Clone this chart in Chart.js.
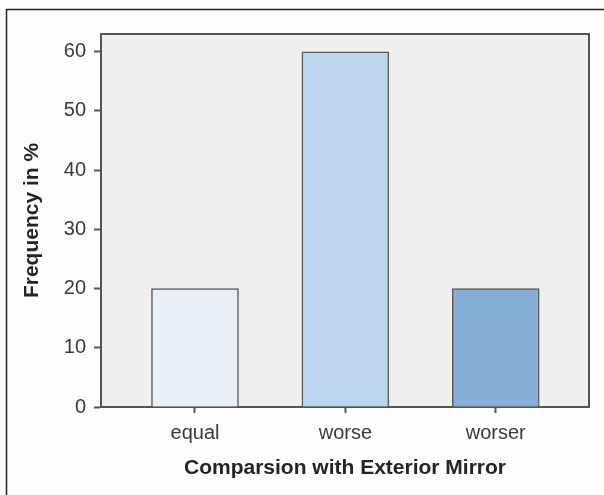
<!DOCTYPE html>
<html>
<head>
<meta charset="utf-8">
<script src="https://cdn.jsdelivr.net/npm/chart.js@4/dist/chart.umd.min.js"></script>
<style>
  html, body { margin: 0; padding: 0; background: #fdfdfd; }
  #wrap { width: 604px; height: 495px; position: relative; }
</style>
</head>
<body>
<div id="wrap"><canvas id="freq-chart"></canvas></div>
<script>
// chart data
const categories = ['equal', 'worse', 'worser'];
const frequencies = [20, 60, 20];
const barColors = ['#e9eff8', '#bbd6ec', '#85afd6'];
const yTicks = [0, 10, 20, 30, 40, 50, 60];

const frameColor = '#5a5353';
const fontFamily = '"Liberation Sans", Arial, Helvetica, sans-serif';

// grey plot background plus top/right frame and the outer picture border
const plotFrame = {
    id: 'plotFrame',
    beforeDraw: (chart) => {
        const { ctx, chartArea: a } = chart;
        ctx.save();
        ctx.fillStyle = '#efefef';
        ctx.fillRect(a.left, a.top, a.right - a.left, a.bottom - a.top);
        ctx.restore();
    },
    afterDraw: (chart) => {
        const { ctx, chartArea: a } = chart;
        ctx.save();
        ctx.strokeStyle = frameColor;
        ctx.lineWidth = 2;
        ctx.beginPath();
        ctx.moveTo(a.left, a.top);
        ctx.lineTo(a.right, a.top);
        ctx.lineTo(a.right, a.bottom);
        ctx.stroke();
        // outer border (only left and top visible in the picture)
        ctx.strokeStyle = '#222';
        ctx.lineWidth = 1.5;
        ctx.beginPath();
        ctx.moveTo(6.5, 520);
        ctx.lineTo(6.5, 9.5);
        ctx.lineTo(620, 9.5);
        ctx.stroke();
        ctx.restore();
    }
};

new Chart(document.getElementById('freq-chart'), {
    type: 'bar',
    data: {
        datasets: [{
            label: 'Frequency in %',
            data: categories.map((c, i) => ({ x: i, y: frequencies[i] })),
            backgroundColor: barColors,
            borderColor: '#5e5959',
            borderWidth: 1.5,
            barThickness: 87
        }]
    },
    options: {
        responsive: true,
        maintainAspectRatio: false,
        animation: false,
        layout: { padding: { top: 34, right: 15, left: 0, bottom: 0 } },
        plugins: {
            legend: { display: false },
            tooltip: { enabled: false }
        },
        scales: {
            x: {
                type: 'linear',
                offset: false,
                min: -0.625,
                max: 2.62,
                afterBuildTicks: (axis) => {
                    axis.ticks = categories.map((c, i) => ({ value: i }));
                },
                afterFit: (axis) => { axis.height = 88; },
                grid: { offset: false, drawOnChartArea: false, tickLength: 6, tickColor: frameColor, tickWidth: 2 },
                border: { color: frameColor, width: 2 },
                ticks: {
                    callback: (v) => categories[v],
                    color: '#3a3a3a',
                    font: { family: fontFamily, size: 20 },
                    padding: 8,
                    maxRotation: 0
                },
                title: {
                    display: true,
                    text: 'Comparsion with Exterior Mirror',
                    color: '#242424',
                    font: { family: fontFamily, size: 21, weight: 'bold' },
                    padding: { top: 0, bottom: 14 }
                }
            },
            y: {
                min: 0,
                max: 63,
                afterBuildTicks: (axis) => {
                    axis.ticks = yTicks.map((v) => ({ value: v }));
                },
                afterFit: (axis) => { axis.width = 101; },
                grid: { drawOnChartArea: false, tickLength: 7, tickColor: frameColor, tickWidth: 2 },
                border: { color: frameColor, width: 2 },
                ticks: {
                    color: '#3a3a3a',
                    font: { family: fontFamily, size: 20 },
                    padding: 8
                },
                title: {
                    display: true,
                    text: 'Frequency in %',
                    color: '#242424',
                    font: { family: fontFamily, size: 21, weight: 'bold' },
                    padding: { top: 20, bottom: 0 }
                }
            }
        }
    },
    plugins: [plotFrame]
});
</script>
</body>
</html>
